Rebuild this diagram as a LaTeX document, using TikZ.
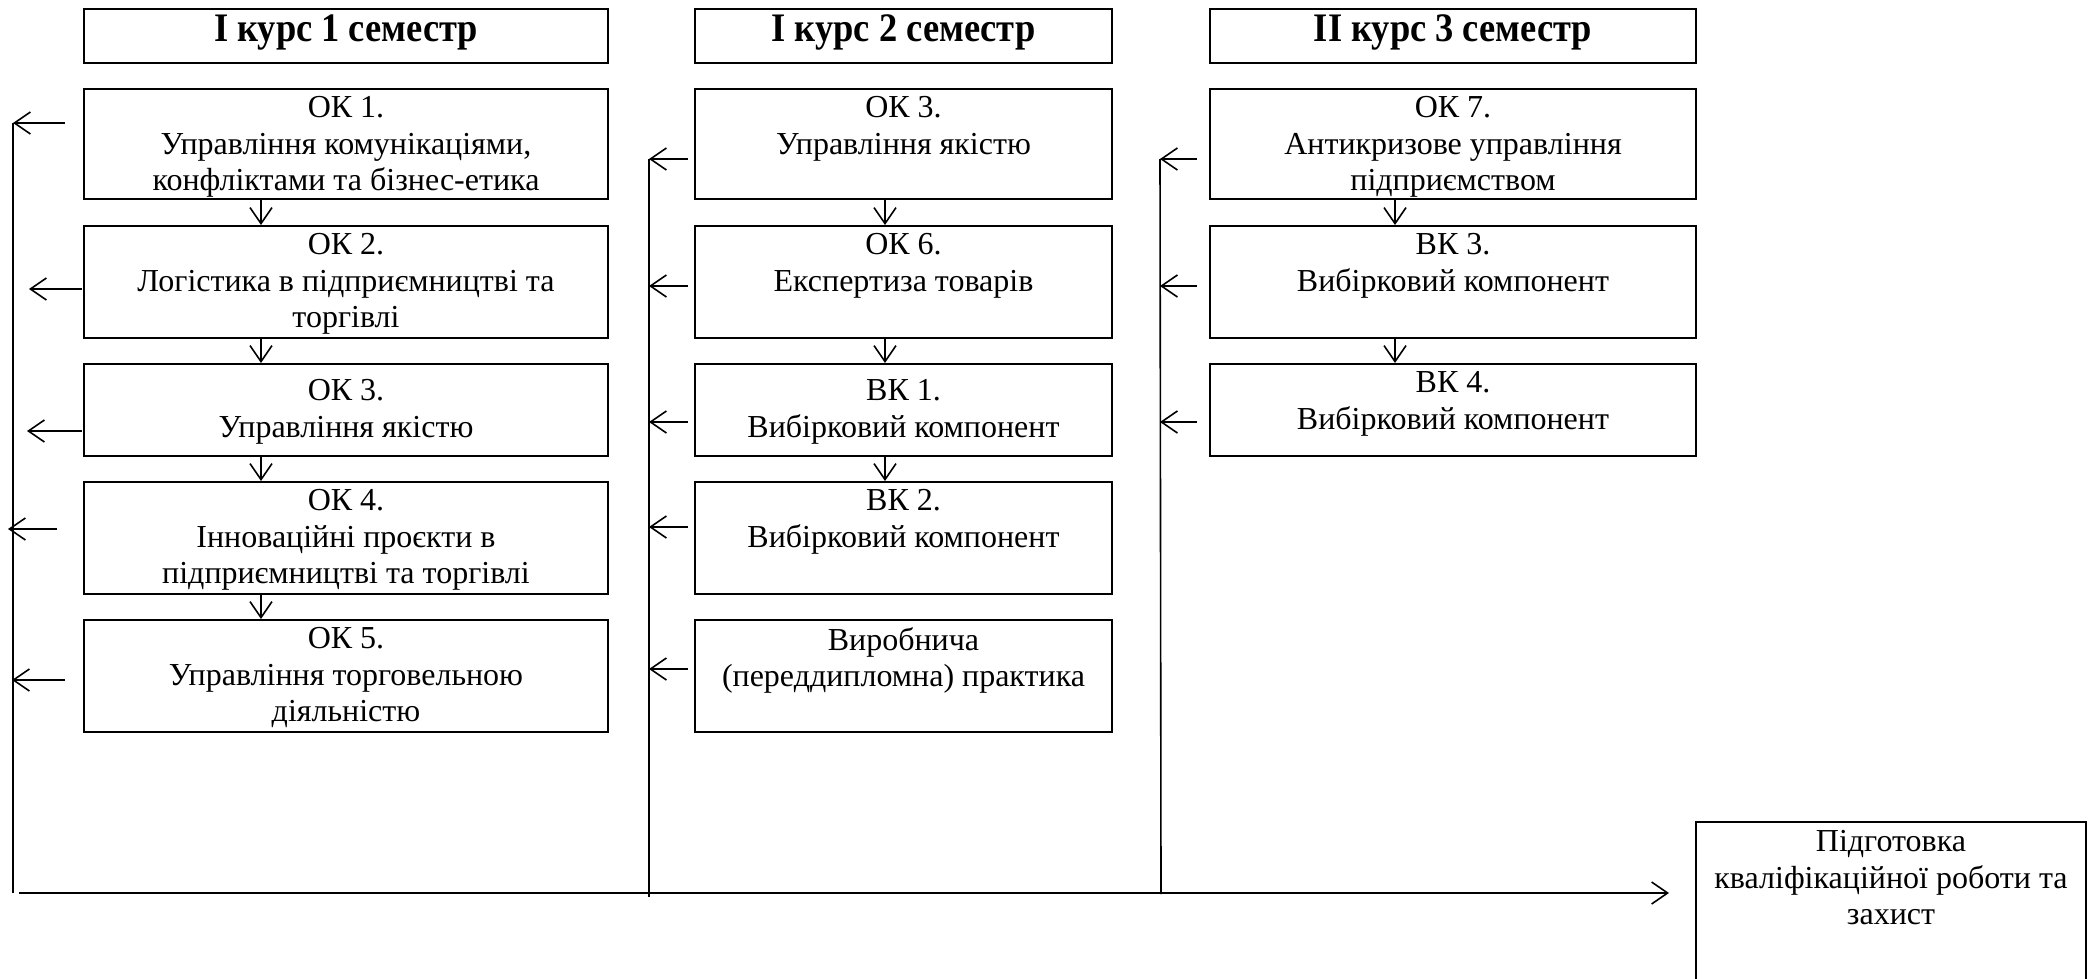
\documentclass[tikz,border=0pt]{standalone}
\usepackage{fontspec}
\setmainfont{Liberation Serif}
\newfontfamily\hdrfont{Liberation Serif}[FakeStretch=0.9]
\usetikzlibrary{arrows.meta}

\begin{document}
\begin{tikzpicture}[x=1pt,y=-1pt,line join=miter,>={Straight Barb[length=16pt,width=22pt]},
  blk/.style={draw,line width=2pt,inner sep=0pt,anchor=north west},
  txt/.style={anchor=north,align=center,inner sep=0pt,font=\fontsize{32}{36.8}\selectfont},
  hdr/.style={anchor=north,inner sep=0pt,font=\hdrfont\bfseries\fontsize{40.5}{46}\selectfont},
  con/.style={line width=1.6pt}]
\clip (0,0) rectangle (2093,979);

% headers
\node[blk,minimum width=524pt,minimum height=54pt] (h1) at (83,8) {};
\node[hdr] (h1t) at ([yshift=-6.5pt]h1.north) {І курс 1 семестр};
\node[blk,minimum width=417pt,minimum height=54pt] (h2) at (694,8) {};
\node[hdr] (h2t) at ([yshift=-6.5pt]h2.north) {І курс 2 семестр};
\node[blk,minimum width=486pt,minimum height=54pt] (h3) at (1209,8) {};
\node[hdr] (h3t) at ([yshift=-6.5pt]h3.north) {ІІ курс 3 семестр};

% column 1
\node[blk,minimum width=524pt,minimum height=110pt] (ok1) at (83,88) {};
\node[txt] (ok1t) at ([yshift=-8pt]ok1.north) {ОК 1.\\Управління комунікаціями,\\конфліктами та бізнес-етика};
\node[blk,minimum width=524pt,minimum height=112pt] (ok2) at (83,225) {};
\node[txt] (ok2t) at ([yshift=-8pt]ok2.north) {ОК 2.\\Логістика в підприємництві та\\торгівлі};
\node[blk,minimum width=524pt,minimum height=92pt] (ok3) at (83,363) {};
\node[txt] (ok3t) at ([yshift=-16pt]ok3.north) {ОК 3.\\Управління якістю};
\node[blk,minimum width=524pt,minimum height=112pt] (ok4) at (83,481) {};
\node[txt] (ok4t) at ([yshift=-8pt]ok4.north) {ОК 4.\\Інноваційні проєкти в\\підприємництві та торгівлі};
\node[blk,minimum width=524pt,minimum height=112pt] (ok5) at (83,619) {};
\node[txt] (ok5t) at ([yshift=-8pt]ok5.north) {ОК 5.\\Управління торговельною\\діяльністю};

% column 2
\node[blk,minimum width=417pt,minimum height=110pt] (ok3b) at (694,88) {};
\node[txt] (ok3bt) at ([yshift=-8pt]ok3b.north) {ОК 3.\\Управління якістю};
\node[blk,minimum width=417pt,minimum height=112pt] (ok6) at (694,225) {};
\node[txt] (ok6t) at ([yshift=-8pt]ok6.north) {ОК 6.\\Експертиза товарів};
\node[blk,minimum width=417pt,minimum height=92pt] (vk1) at (694,363) {};
\node[txt] (vk1t) at ([yshift=-16pt]vk1.north) {ВК 1.\\Вибірковий компонент};
\node[blk,minimum width=417pt,minimum height=112pt] (vk2) at (694,481) {};
\node[txt] (vk2t) at ([yshift=-8pt]vk2.north) {ВК 2.\\Вибірковий компонент};
\node[blk,minimum width=417pt,minimum height=112pt] (prak) at (694,619) {};
\node[txt] (prakt) at ([yshift=-8pt]prak.north) {Виробнича\\(переддипломна) практика};

% column 3
\node[blk,minimum width=486pt,minimum height=110pt] (ok7) at (1209,88) {};
\node[txt] (ok7t) at ([yshift=-8pt]ok7.north) {ОК 7.\\Антикризове управління\\підприємством};
\node[blk,minimum width=486pt,minimum height=112pt] (vk3) at (1209,225) {};
\node[txt] (vk3t) at ([yshift=-8pt]vk3.north) {ВК 3.\\Вибірковий компонент};
\node[blk,minimum width=486pt,minimum height=92pt] (vk4) at (1209,363) {};
\node[txt] (vk4t) at ([yshift=-8pt]vk4.north) {ВК 4.\\Вибірковий компонент};

% final box
\node[blk,minimum width=390pt,minimum height=175pt] (fin) at (1695,821) {};
\node[txt] (fint) at ([yshift=-9pt]fin.north) {Підготовка\\кваліфікаційної роботи та\\захист};

% down arrows
\coordinate (d1) at (261,0);
\coordinate (d2) at (885,0);
\coordinate (d3) at (1395,0);
\draw[con,->] (ok1.south -| d1) -- (ok2.north -| d1);
\draw[con,->] (ok2.south -| d1) -- (ok3.north -| d1);
\draw[con,->] (ok3.south -| d1) -- (ok4.north -| d1);
\draw[con,->] (ok4.south -| d1) -- (ok5.north -| d1);
\draw[con,->] (ok3b.south -| d2) -- (ok6.north -| d2);
\draw[con,->] (ok6.south -| d2) -- (vk1.north -| d2);
\draw[con,->] (vk1.south -| d2) -- (vk2.north -| d2);
\draw[con,->] (ok7.south -| d3) -- (vk3.north -| d3);
\draw[con,->] (vk3.south -| d3) -- (vk4.north -| d3);

% left arrows, column 1
\coordinate (a1) at (13,123);
\coordinate (a2) at (29,289);
\coordinate (a3) at (27,431);
\coordinate (a4) at (8,529);
\coordinate (a5) at (12,680);
\coordinate (e1) at (13,893);
\draw[con,->] (ok1.west |- a1) ++(-18,0) -- (a1);
\draw[con,->] (ok2.west |- a2) ++(-1,0) -- (a2);
\draw[con,->] (ok3.west |- a3) ++(-1,0) -- (a3);
\draw[con,->] (ok4.west |- a4) ++(-26,0) -- (a4);
\draw[con,->] (ok5.west |- a5) ++(-18,0) -- (a5);
\draw[con] (a1) -- (e1);

% left arrows, column 2
\coordinate (b1) at (649,159);
\coordinate (b2) at (649,286);
\coordinate (b3) at (649,422);
\coordinate (b4) at (649,527);
\coordinate (b5) at (649,669);
\coordinate (e2) at (649,897);
\draw[con,->] (ok3b.west |- b1) ++(-6,0) -- (b1);
\draw[con,->] (ok6.west |- b2) ++(-6,0) -- (b2);
\draw[con,->] (vk1.west |- b3) ++(-6,0) -- (b3);
\draw[con,->] (vk2.west |- b4) ++(-6,0) -- (b4);
\draw[con,->] (prak.west |- b5) ++(-6,0) -- (b5);
\draw[con] (b1) -- (e2);

% left arrows, column 3
\coordinate (c1) at (1160,159);
\coordinate (c2) at (1160,286);
\coordinate (c3) at (1160,422);
\coordinate (e3) at (1161,894);
\draw[con,->] (ok7.west |- c1) ++(-12,0) -- (c1);
\draw[con,->] (vk3.west |- c2) ++(-12,0) -- (c2);
\draw[con,->] (vk4.west |- c3) ++(-12,0) -- (c3);
\draw[con] (c1) -- (e3);

% bottom line to the final box
\coordinate (s0) at (19,893);
\draw[con,->,shorten >=26pt] (s0) -- (fin.west |- s0);
\end{tikzpicture}
\end{document}
